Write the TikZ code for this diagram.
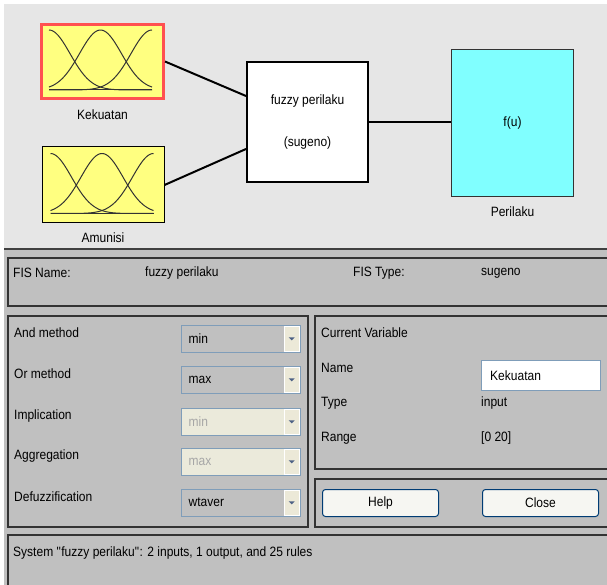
\documentclass[tikz,border=0pt]{standalone}
\usepackage{fontspec}
\setmainfont{Liberation Sans}[FakeStretch=0.89]
\usetikzlibrary{positioning}
\definecolor{topgray}{RGB}{230,230,230}
\definecolor{panelgray}{RGB}{192,192,192}
\definecolor{mfyellow}{RGB}{255,255,128}
\definecolor{outcyan}{RGB}{128,255,255}
\definecolor{selred}{RGB}{255,80,80}
\definecolor{menublue}{RGB}{127,157,185}
\definecolor{btnbeige}{RGB}{236,233,216}
\definecolor{offbeige}{RGB}{235,234,219}
\definecolor{btnblue}{RGB}{0,60,116}
\definecolor{btnwhite}{RGB}{246,246,242}
\definecolor{arrowgray}{RGB}{77,97,133}
\begin{document}
\begin{tikzpicture}[x=1pt, y=-1pt,
    every node/.style={inner sep=0pt, font=\fontsize{13.5}{15}\selectfont},
    mfbox/.style={draw=black, line width=1pt, fill=mfyellow, minimum width=122pt, minimum height=76pt},
    tag/.style={text height=9.5pt, text depth=2.5pt},
    wire/.style={line width=2pt},
    mfcurve/.style={line width=1pt, draw=black!80},
    panel/.style={draw=black!80, line width=1.4pt, fill=panelgray},
    menu/.style={draw=menublue, line width=1pt, minimum width=119pt, minimum height=27pt, anchor=north west},
    menubtn/.style={fill=btnbeige, draw=white, line width=0.6pt, minimum width=15pt, minimum height=25pt, anchor=north east},
    pushbtn/.style={draw=btnblue, line width=1pt, rounded corners=3pt, fill=btnwhite, minimum width=116pt, minimum height=27pt},
    lbl/.style={anchor=west}]
    \useasboundingbox (0,0) rectangle (607,585);
    \clip (0,0) rectangle (607,585);
    \fill[white] (0,0) rectangle (607,585);
    % diagram area
    \fill[topgray] (4,4) rectangle (607,249);
    \node[mfbox, draw=selred, line width=3pt, minimum height=74pt] (kekuatan) at (102.5,61.5) {};
    \node[mfbox] (amunisi) at (103,185) {};
    \node[tag, below=10pt of kekuatan] (kekuatanlbl) {Kekuatan};
    \node[tag, below=9pt of amunisi] (amunisilbl) {Amunisi};
    \node[draw=black, line width=2pt, fill=white, minimum width=121pt, minimum height=120pt, align=center] (fis) at (307.5,122) {fuzzy perilaku\\[27pt](sugeno)};
    \node[draw=black!80, line width=1pt, fill=outcyan, minimum width=122pt, minimum height=147pt] (perilaku) at (512.5,123) {f(u)};
    \node[tag, below=10pt of perilaku] (perilakulbl) {Perilaku};
    % membership functions
    \foreach \b in {kekuatan, amunisi} {
        \begin{scope}[shift={(\b.north west)}]
            \draw[mfcurve] (9,67) -- (112,67);
            \foreach \c in {9,60.5,112}
            \draw[mfcurve] plot[domain=9:112, samples=60] (\x, {67-60*exp(-((\x-\c)^2)/882)});
        \end{scope}
    }
    \draw[wire] (kekuatan.east) -- ([yshift=26pt]fis.west);
    \draw[wire] (amunisi.east) -- ([yshift=-27pt]fis.west);
    \draw[wire] (fis.east) -- (perilaku.west |- fis.east);
    % settings area
    \fill[panelgray] (4,249) rectangle (607,585);
    \draw[line width=1.5pt, black!75] (4,249) -- (607,249);
    \draw[panel] (8,258) rectangle (612,306);
    \node[lbl] (fisname) at (13,273) {FIS Name:};
    \node[lbl] (fisnameval) at (145,273) {fuzzy perilaku};
    \node[lbl] (fistype) at (353,273) {FIS Type:};
    \node[lbl] (fistypeval) at (481,273) {sugeno};
    \draw[panel] (8,316) rectangle (308,527);
    \foreach \y/\lab/\val/\fc/\tc in {324/And method/min/panelgray/black, 365/Or method/max/panelgray/black,
        407/Implication/min/offbeige/black!35, 447/Aggregation/max/offbeige/black!35,
        488/Defuzzification/wtaver/panelgray/black} {
        \node[lbl] at (14,\y+9) {\lab};
        \node[menu, fill=\fc] (m\y) at (180.5,\y+0.5) {};
        \node[lbl, text=\tc] at ([xshift=8pt]m\y.west) {\val};
        \node[menubtn] (b\y) at ([xshift=-1pt,yshift=-1pt]m\y.north east) {};
        \fill[arrowgray] ([xshift=-3pt,yshift=1pt]b\y.center) -- ++(6,0) -- ++(-3,3) -- cycle;
    }
    \draw[panel] (315,316) rectangle (612,469);
    \node[lbl] (curvar) at (321,333) {Current Variable};
    \node[lbl] (namelbl) at (321,368) {Name};
    \node[draw=menublue, line width=1pt, fill=white, minimum width=119pt, minimum height=30pt] (namebox) at (541,375.5) {};
    \node[lbl] (nameval) at ([xshift=9pt]namebox.west) {Kekuatan};
    \node[lbl] (typelbl) at (321,403) {Type};
    \node[lbl] (typeval) at (481,403) {input};
    \node[lbl] (rangelbl) at (321,438) {Range};
    \node[lbl] (rangeval) at (481,438) {[0 20]};
    \draw[panel] (315,479) rectangle (612,527);
    \node[pushbtn] (help) at (380.5,503) {Help};
    \node[pushbtn] (close) at (540.5,503) {Close};
    \draw[panel] (8,535) rectangle (612,592);
    \node[lbl] (status) at (13,553) {System \textquotedbl fuzzy perilaku\textquotedbl: 2 inputs, 1 output, and 25 rules};
\end{tikzpicture}
\end{document}
